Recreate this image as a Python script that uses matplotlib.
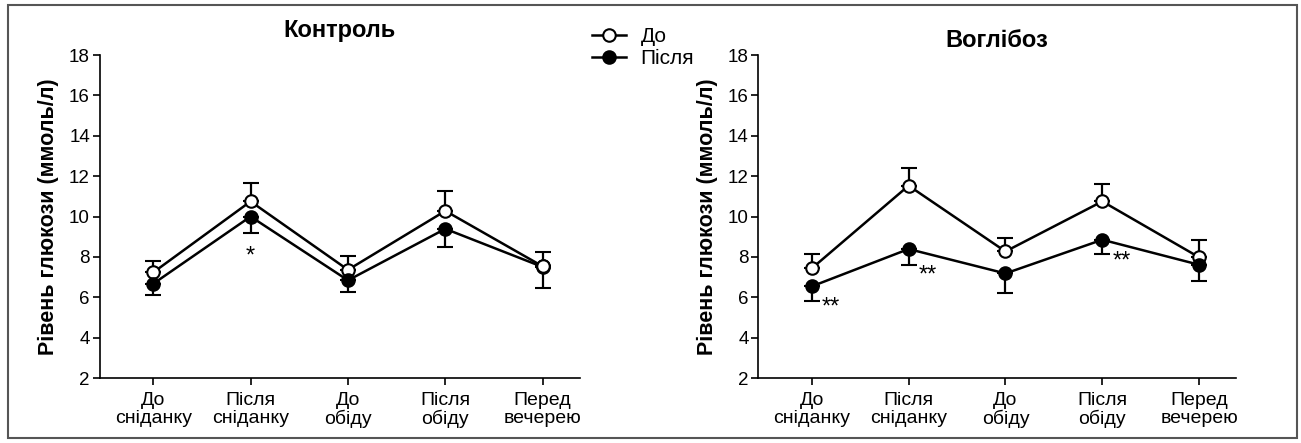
import numpy as np
import matplotlib
matplotlib.use("Agg")
import matplotlib.pyplot as plt
from matplotlib.patches import Rectangle

plt.rcParams['font.family'] = ['Liberation Sans', 'DejaVu Sans']

# categories (time of measurement)
categories = ['До\nсніданку', 'Після\nсніданку', 'До\nобіду', 'Після\nобіду', 'Перед\nвечерею']

# Контроль
ctrl_before = [7.23, 10.75, 7.36, 10.28, 7.53]
ctrl_before_top = [7.81, 11.64, 8.06, 11.27, 8.24]
ctrl_after = [6.67, 10.0, 6.84, 9.39, 7.50]
ctrl_after_bottom = [6.13, 9.18, 6.26, 8.51, 6.46]
ctrl_stars = [(1, 8.0, '*')]

# Воглібоз
vog_before = [7.43, 11.53, 8.27, 10.75, 7.98]
vog_before_top = [8.14, 12.39, 8.95, 11.61, 8.82]
vog_after = [6.54, 8.39, 7.18, 8.85, 7.61]
vog_after_bottom = [5.83, 7.60, 6.21, 8.13, 6.82]
vog_stars = [(0, 5.5, '**'), (1, 7.1, '**'), (3, 7.75, '**')]

y_ticks = [2, 4, 6, 8, 10, 12, 14, 16, 18]


def draw_panel(ax, title, before, before_top, after, after_bottom, stars,
               star_dx, title_y, before_on_top_last=False):
    x = np.arange(len(categories))
    before = np.array(before)
    after = np.array(after)
    up = np.array(before_top) - before
    lo = after - np.array(after_bottom)

    ax.errorbar(x, before, yerr=[np.zeros_like(up), up], fmt='-o', color='black',
                mfc='white', mec='black', ms=9, mew=1.5, lw=1.8,
                elinewidth=1.6, capsize=6, capthick=1.8, zorder=3)
    ax.errorbar(x, after, yerr=[lo, np.zeros_like(lo)], fmt='-o', color='black',
                mfc='black', mec='black', ms=9, mew=1.5, lw=1.8,
                elinewidth=1.6, capsize=6, capthick=1.8, zorder=4)
    if before_on_top_last:
        ax.plot(x[-1:], before[-1:], 'o', mfc='white', mec='black', ms=9,
                mew=1.5, zorder=5)

    for i, yv, s in stars:
        ax.text(i + star_dx, yv, s, ha='center', va='center', fontsize=17)

    ax.set_xlim(-0.55, 4.38)
    ax.set_ylim(2, 18)
    ax.set_yticks(y_ticks)
    ax.set_xticks(x)
    ax.set_xticklabels(categories, fontsize=14, linespacing=1.05)
    ax.tick_params(axis='y', labelsize=13.5, length=5, width=1.2, pad=2)
    ax.tick_params(axis='x', length=5, width=1.2, pad=5)
    for side in ['top', 'right']:
        ax.spines[side].set_visible(False)
    for side in ['left', 'bottom']:
        ax.spines[side].set_linewidth(1.2)
    ax.set_ylabel('Рівень глюкози (ммоль/л)', fontsize=15.5, fontweight='bold',
                  labelpad=7)
    ax.set_title(title, fontsize=17, fontweight='bold', y=title_y)


fig = plt.figure(figsize=(13.01, 4.43), dpi=100)

ax1 = fig.add_axes([0.0766, 0.1467, 0.369, 0.729])
draw_panel(ax1, 'Контроль', ctrl_before, ctrl_before_top, ctrl_after,
           ctrl_after_bottom, ctrl_stars, 0.0, 1.03, before_on_top_last=True)

ax2 = fig.add_axes([0.583, 0.1467, 0.367, 0.729])
draw_panel(ax2, 'Воглібоз', vog_before, vog_before_top, vog_after,
           vog_after_bottom, vog_stars, 0.2, 1.0)

# legend
h1, = ax1.plot([], [], '-o', color='black', mfc='white', mec='black', ms=9,
               mew=1.5, lw=1.8)
h2, = ax1.plot([], [], '-o', color='black', mfc='black', mec='black', ms=9,
               mew=1.5, lw=1.8)
fig.legend([h1, h2], ['До', 'Після'], loc='upper left',
           bbox_to_anchor=(0.449, 0.958), frameon=False, fontsize=15,
           handlelength=1.6, handletextpad=0.7, labelspacing=0.15,
           borderaxespad=0)

# outer frame
fig.patches.append(Rectangle((8 / 1301, 5 / 443), 1289 / 1301, 433 / 443,
                             transform=fig.transFigure, fill=False,
                             edgecolor='#555555', lw=1.5))

plt.savefig('out.png', dpi=100)
